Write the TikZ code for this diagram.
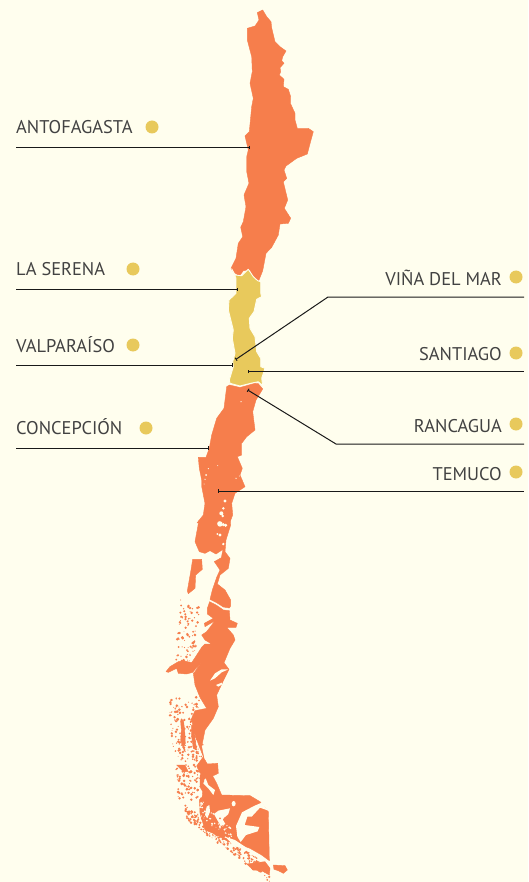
\documentclass[tikz,border=0pt]{standalone}
\usepackage{fontspec}
\setmainfont{PT Sans}
\usetikzlibrary{arrows.meta}
\definecolor{paper}{HTML}{FFFEEE}
\definecolor{land}{HTML}{F67E4C}
\definecolor{gold}{HTML}{E8C95C}
\tikzset{
 lbl/.style={font=\fontsize{18.4}{20}\selectfont,text=black!74,inner sep=0pt},
 dotm/.style={circle,fill=gold,minimum size=13pt,inner sep=0pt},
 lead/.style={draw=black!90,line width=1pt,{Bar[width=3.5pt,length=0.8pt]}-},
 red/.style={fill=land,draw=land,line width=0.4pt,line join=round},
 yel/.style={fill=gold,draw=paper,line width=0.9pt,line join=round},
 cut/.style={fill=paper,draw=none},
 zoomed/.style={x=0.33333pt,y=-0.33333pt}
}
\begin{document}
\begin{tikzpicture}[x=1pt,y=-1pt]
\path[fill=paper] (0,0) rectangle (528,882);
\useasboundingbox (0,0) rectangle (528,882);
% north
\path[red] (257.3,12.7)--(262.7,10)--(266.7,16.7)--(271,21.7)--(271.7,28)--(275,41.7)--(280,46.7)--(286,51)--(282.7,56.7)--(281.7,60.7)--(284,63.3)--(280,67.7)--(280.7,71.7)--(279.3,75)--(284,79.3)--(283.3,86.7)--(288.3,89.3)--(290.7,96.7)--(290.7,104)--(295,113.3)--(295,120)--(297.3,128.3)--(308.3,128.3)--(313.3,131.7)--(311,140)--(307.3,154)--(296.7,158.3)--(286,166)--(284,170)--(286.7,178.3)--(283.3,181.7)--(287.7,200)--(284.3,208.3)--(290.7,218.3)--(288.3,223.3)--(280,224)--(278.3,235)--(271.7,247.3)--(266,253.3)--(262.7,270.7)--(258.3,281.7)--(253.3,277.3)--(250,270)--(243.3,270.7)--(239.3,276)--(233.3,271.7)--(231,268.3)--(236,258.3)--(238.3,243.3)--(242.7,236.7)--(240.7,227.3)--(243.3,221.7)--(246,206.7)--(244,195)--(249,183.3)--(246.7,171.7)--(246.7,156.7)--(248.3,150)--(245,136)--(249.3,131.7)--(251.7,106.7)--(253.3,98.3)--(250,83.3)--(252.3,71.7)--(251.7,56.7)--(247.3,40)--(247.3,28.3)--(255,26)--(259,20)--cycle;
% centre
\path[yel] (231.7,268.8)--(235,275)--(241.7,275.7)--(248.3,269.3)--(253.3,276.7)--(257.7,280.7)--(260.7,281.7)--(260.7,293.3)--(261.7,296.7)--(256.7,299.3)--(254,311.7)--(249.3,318.3)--(250,328.3)--(255,336.7)--(256.7,351.7)--(260.7,358.3)--(260.7,366.7)--(265,368.3)--(261.7,378.3)--(262.7,386)--(258.3,381.7)--(253.3,382.7)--(240,386)--(230,383.3)--(229.3,380)--(233.3,366.7)--(232.7,361.7)--(235,353.3)--(232.3,338.3)--(233.3,330)--(228.3,310)--(229,300)--(236,293.3)--(236,278.3)--cycle;
% mid south, upper part
\path[red] (229.5,385)--(240,387.5)--(255,383.3)--(258.3,383.7)--(262.7,389)--(256,400)--(252.7,411.7)--(255,430)--(246.7,436.7)--(241.7,443.3)--(241.7,455)--(237.3,456.7)--(242.3,468.3)--(240,475)--(245,486.7)--(235,493.3)--(231.7,503.3)--(232.7,515)--(230,522)--(197,523)--(203.3,515)--(205,503.3)--(201.7,486.7)--(201.7,480)--(199.3,468.3)--(198.3,457.3)--(206,457.3)--(209.3,448.3)--(211.7,435)--(216.7,418.3)--(224,408.3)--(226.7,386.7)--cycle;
% archipelago specks, under the land
\pgfmathsetseed{4711}
\begin{scope}[shift={(150,640)},zoomed]
 \foreach \i in {1,...,300}{
   \pgfmathsetmacro{\py}{170+rnd*310}
   \pgfmathsetmacro{\px}{55+(\py-170)*0.09+rnd*92}
   \pgfmathsetmacro{\pr}{1.2+rnd*3.2}
   \fill[land] (\px,\py) circle [radius=\pr];
 }
 \foreach \i in {1,...,220}{
   \pgfmathsetmacro{\pt}{rnd}
   \pgfmathsetmacro{\px}{105+\pt*255}
   \pgfmathsetmacro{\py}{515+\pt*190+(rnd-0.5)*42}
   \pgfmathsetmacro{\pr}{1.2+rnd*3.2}
   \fill[land] (\px,\py) circle [radius=\pr];
 }
 \path[red] (92,245)--(100,240)--(104,270)--(106,310)--(100,325)--(92,300)--(94,270)--cycle;
 \path[red] (125,255)--(132,258)--(135,295)--(140,330)--(130,325)--(125,290)--cycle;
 \path[red] (80,375)--(105,375)--(115,395)--(100,395)--cycle;
 \path[red] (160,480)--(175,480)--(172,500)--(160,500)--cycle;
 % southernmost islands
 \path[red] (370,675)--(405,677)--(412,690)--(400,700)--(385,692)--(372,688)--cycle;
 \path[red] (290,672)--(320,668)--(345,665)--(360,685)--(358,705)--(335,692)--(310,690)--cycle;
\end{scope}
\begin{scope}[shift={(160,520)},zoomed]
 \foreach \i in {1,...,90}{
   \pgfmathsetmacro{\py}{255+rnd*180}
   \pgfmathsetmacro{\px}{62+rnd*58-(\py-255)*0.1}
   \pgfmathsetmacro{\pr}{1.2+rnd*3.2}
   \fill[land] (\px,\py) circle [radius=\pr];
 }
 \foreach \a/\b/\r in {62/240/1.6,100/368/5,88/350/3,105/345/4}
   \fill[land] (\a,\b) circle [radius=\r];
 % land north of the fjord
 \path[red] (117,0)--(210,0)--(212,15)--(198,60)--(195,95)--(210,115)--(205,145)--(180,165)--(172,192)--(195,210)--(212,240)--(212,258)--(208,264)--(190,261)--(170,248)--(150,238)--(157,210)--(170,172)--(180,150)--(163,125)--(184,113)--(189,88)--(168,102)--(150,92)--(135,100)--(118,95)--(105,65)--cycle;
 % west block
 \path[red] (98,118)--(125,118)--(127,148)--(107,165)--(105,205)--(85,221)--(82,213)--(93,150)--cycle;
\end{scope}
\begin{scope}[shift={(150,640)},zoomed]
 % main southern land
 \path[red] (179,-115)--(200,-104)--(220,-90)--(238,-88)--(240,-60)--(262,-50)--(258,-38)--(230,-38)--(250,-15)--(255,0)--(240,25)--(222,68)--(237,88)--(222,118)--(200,165)--(205,200)--(190,235)--(165,270)--(155,320)--(162,355)--(172,372)--(203,370)--(205,400)--(188,408)--(200,430)--(215,465)--(300,467)--(330,485)--(355,515)--(358,662)--(335,645)--(300,625)--(260,610)--(235,605)--(195,582)--(165,570)--(150,520)--(148,480)--(158,465)--(150,440)--(150,400)--(140,378)--(160,350)--(148,320)--(130,270)--(125,235)--(135,212)--(170,205)--(150,172)--(135,135)--(130,100)--(135,95)--(157,62)--(128,97)--(110,102)--(85,100)--(80,85)--(55,97)--(48,95)--(60,80)--(85,65)--(100,62)--(125,68)--(137,50)--(155,22)--(165,12)--(185,12)--(165,0)--(155,-15)--(170,-25)--(195,-58)--(165,-40)--(163,-50)--(190,-65)--(172,-78)--(172,-95)--cycle;
 % fjords
 \path[cut] (180,122)--(195,100)--(215,88)--(235,88)--(215,97)--(195,115)--cycle;
 \path[cut] (198,135)--(215,128)--(217,133)--(205,140)--cycle;
 \path[cut] (167,415)--(175,435)--(195,450)--(190,465)--(175,445)--(160,430)--cycle;
 \path[cut] (335,488)--(355,512)--(330,503)--(305,530)--(292,530)--(284,555)--(328,561)--(323,574)--(288,585)--(272,606)--(262,590)--(258,558)--(276,517)--(312,498)--cycle;
 \path[cut] (192,522)--(205,512)--(240,505)--(235,522)--(218,538)--(226,552)--(212,558)--(202,540)--cycle;
 \path[cut] (170,500)--(178,495)--(180,515)--(172,535)--(165,525)--cycle;
 \path[cut] (148,440)--(157,455)--(155,472)--(146,472)--cycle;
 \path[cut] (225,590)--(255,600)--(285,620)--(275,626)--(250,615)--cycle;
 \fill[paper] (251,491) ellipse [x radius=6,y radius=8];
 \foreach \i in {1,...,45}{
   \pgfmathsetmacro{\pt}{rnd}
   \pgfmathsetmacro{\px}{150+\pt*95}
   \pgfmathsetmacro{\py}{500+\pt*85+(rnd-0.5)*50}
   \pgfmathsetmacro{\pr}{1.3+rnd*2.4}
   \fill[paper] (\px,\py) circle [radius=\pr];
 }
 \foreach \a/\b/\r in {148/402/4,165/420/3}
   \fill[paper] (\a,\b) circle [radius=\r];
 \foreach \a/\b/\r in {225/535/4,245/560/4,240/575/5,210/535/3,200/552/3}
   \fill[land] (\a,\b) circle [radius=\r];
\end{scope}
% holes in the land further north
\begin{scope}[shift={(180,380)},zoomed]
 \foreach \a/\b/\r in {183/65/2,113/257/1.5,85/266/2,78/285/3,75/298/2,72/312/1.5,168/295/2,178/288/1.5,135/363/5,130/385/4,124/400/6,128/408/4,120/432/8,137/436/5}
   \fill[paper] (\a,\b) circle [radius=\r];
\end{scope}
\begin{scope}[shift={(160,520)},zoomed]
 \foreach \a/\b/\r in {178/10/6,190/14/5,180/45/5,172/42/3,190/72/4}
   \fill[paper] (\a,\b) circle [radius=\r];
\end{scope}
% dots
\node[dotm] (d1) at (152,127) {};
\node[dotm] (d2) at (133,269) {};
\node[dotm] (d3) at (133,345) {};
\node[dotm] (d4) at (146,428) {};
\node[dotm] (d5) at (516,277) {};
\node[dotm] (d6) at (516,353) {};
\node[dotm] (d7) at (516,424) {};
\node[dotm] (d8) at (516,472) {};
% labels
\node[lbl,anchor=base west] (t1) at (16,134) {ANTOFAGASTA};
\node[lbl,anchor=base west] (t2) at (16,276) {LA SERENA};
\node[lbl,anchor=base west] (t3) at (16,352) {VALPARAÍSO};
\node[lbl,anchor=base west] (t4) at (16,434) {CONCEPCIÓN};
\node[lbl,anchor=base east] (t5) at (502,285) {VIÑA DEL MAR};
\node[lbl,anchor=base east] (t6) at (502,360) {SANTIAGO};
\node[lbl,anchor=base east] (t7) at (502,432) {RANCAGUA};
\node[lbl,anchor=base east] (t8) at (502,480) {TEMUCO};
% leaders
\coordinate (a1) at (250,147.5); \coordinate (b1) at (16,147.5);
\coordinate (a2) at (238.3,289.5); \coordinate (b2) at (16,289.5);
\coordinate (a3) at (232.7,365); \coordinate (b3) at (16,365);
\coordinate (a4) at (209.3,448); \coordinate (b4) at (16,448);
\coordinate (a5) at (235.7,359.5); \coordinate (k5) at (328,297); \coordinate (b5) at (524,297);
\coordinate (a6) at (248.3,371.7); \coordinate (b6) at (524,371.7);
\coordinate (a7) at (247.7,390); \coordinate (k7) at (336,444); \coordinate (b7) at (524,444);
\coordinate (a8) at (218.3,491); \coordinate (b8) at (524,491);
\draw[lead] (a1)--(b1);
\draw[lead] (a2)--(b2);
\draw[lead] (a3)--(b3);
\draw[lead] (a4)--(b4);
\draw[lead] (a5)--(k5)--(b5);
\draw[lead] (a6)--(b6);
\draw[lead] (a7)--(k7)--(b7);
\draw[lead] (a8)--(b8);
\end{tikzpicture}
\end{document}
